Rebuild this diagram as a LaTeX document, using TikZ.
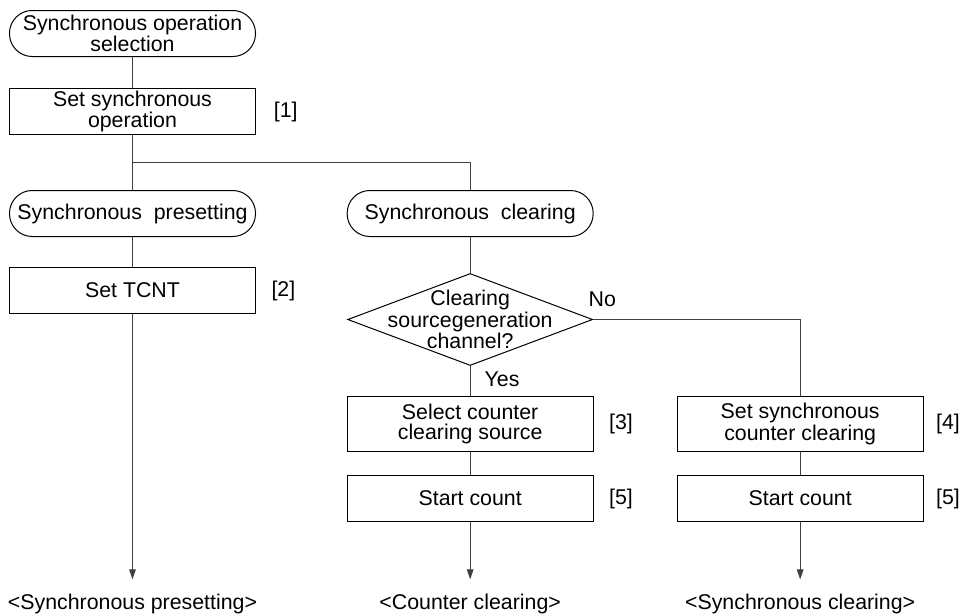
\documentclass[tikz,border=0pt]{standalone}
\usepackage{fontspec}
\setmainfont{Liberation Sans}
\usetikzlibrary{arrows.meta,positioning,shapes.geometric,calc}

\begin{document}
\begin{tikzpicture}[>={Triangle[length=7.5pt,width=5pt]},node distance=17.25pt and 62.25pt,
  font=\fontsize{16pt}{14.6pt}\selectfont,line width=0.75pt,
  term/.style={draw,rounded corners=17pt,minimum width=184.5pt,minimum height=34.5pt,inner ysep=1pt,align=center},
  proc/.style={draw,minimum width=184.5pt,minimum height=34.5pt,inner ysep=1pt,align=center},
  proc2/.style={proc,minimum height=41.25pt},
  decision/.style={draw,diamond,minimum width=183.75pt,minimum height=69pt,inner sep=0pt},
  tag/.style={inner sep=0pt},
  flow/.style={draw=black!75}]
\node[term](start){Synchronous operation\\selection};
\useasboundingbox ($(start.north west)+(-6.75pt,7.5pt)$) rectangle ++(721.5pt,-461.25pt);
\node[proc,below=23.25pt of start](setop){Set synchronous\\operation};
\node[tag,right=13pt of setop](t1){[1]};
\node[term,below=41.25pt of setop](pre){Synchronous~~presetting};
\node[term,right=68pt of pre](clr){Synchronous~~clearing};
\node[proc,below=22.5pt of pre](tcnt){Set TCNT};
\node[tag,right=11.25pt of tcnt](t2){[2]};
\node[decision,below=27pt of clr](dec){};
\node[align=center,inner sep=0pt](dectxt) at (dec){Clearing\\sourcegeneration\\channel?};
\node[tag,above right=9pt and -3.75pt of dec.east](no){No};
\node[tag,below right=3.75pt and 10.5pt of dec.south](yes){Yes};
\node[proc2,below=22.5pt of dec](selsrc){Select counter\\clearing source};
\node[tag,right=11.25pt of selsrc](t3){[3]};
\node[proc,below=of selsrc](cnt1){Start count};
\node[tag,right=11.25pt of cnt1](t5a){[5]};
\node[proc2,right=of selsrc](syncclr){Set synchronous\\counter clearing};
\node[tag,right=9pt of syncclr](t4){[4]};
\node[proc,below=of syncclr](cnt2){Start count};
\node[tag,right=9pt of cnt2](t5b){[5]};
\node[tag,below=209.5pt of tcnt](out1){<Synchronous presetting>};
\node[tag,anchor=base](out2) at (out1.base -| cnt1){<Counter clearing>};
\node[tag,anchor=base](out3) at (out1.base -| cnt2){<Synchronous clearing>};
\coordinate (split) at ($(setop.south)!0.5!(pre.north)$);
\draw[flow] (start) -- (setop);
\draw[flow] (setop) -- (pre);
\draw[flow] (split) -| (clr);
\draw[flow] (pre) -- (tcnt);
\draw[flow] (clr) -- (dec);
\draw[flow] (dec) -- (selsrc);
\draw[flow] (dec.east) -| (syncclr);
\draw[flow] (selsrc) -- (cnt1);
\draw[flow] (syncclr) -- (cnt2);
\draw[flow,->,shorten >=10.5pt] (tcnt) -- (out1);
\draw[flow,->,shorten >=10.5pt] (cnt1) -- (out2);
\draw[flow,->,shorten >=10.5pt] (cnt2) -- (out3);
\end{tikzpicture}
\end{document}
